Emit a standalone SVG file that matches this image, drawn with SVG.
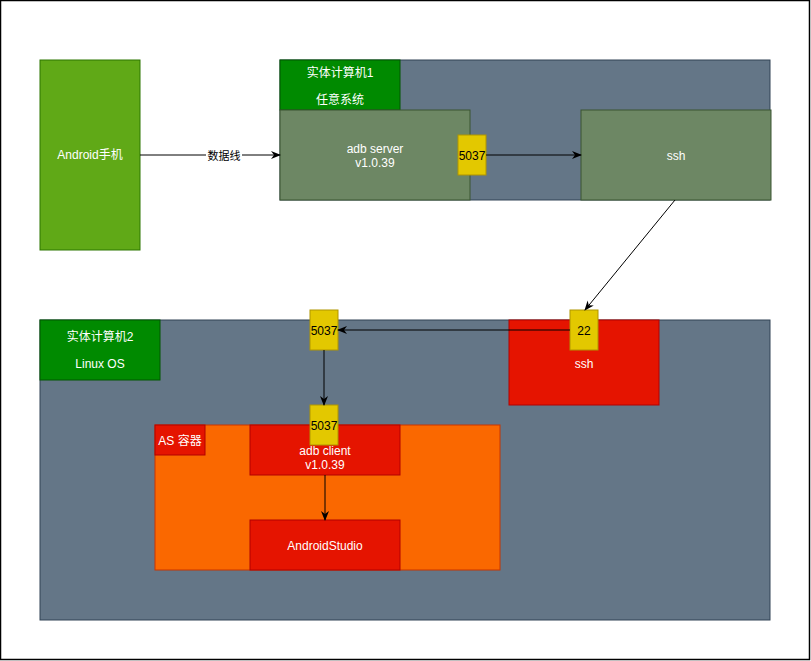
<svg xmlns="http://www.w3.org/2000/svg" width="811" height="661" viewBox="0 0 811 661">
<defs>
<style>
text{font-family:"Liberation Sans","Noto Sans CJK SC",Arial,sans-serif;font-size:12px;text-anchor:middle}
.w{fill:#ffffff}
.k{fill:#000000}
.host{fill:#647687;stroke:#314354}
.lab{fill:#008a00;stroke:#005700}
.gbox{fill:#6d8764;stroke:#3a5431}
.port{fill:#e3c800;stroke:#b09500}
.red{fill:#e51400;stroke:#b20000}
.edge{stroke:#000;stroke-width:1;fill:none;marker-end:url(#arr)}
</style>
<marker id="arr" viewBox="0 0 10 10" refX="9" refY="5" markerWidth="10" markerHeight="10" markerUnits="userSpaceOnUse" orient="auto">
<path d="M0,1 L10,5 L0,9 L3,5 Z" fill="#000"/>
</marker>
</defs>
<rect x="0" y="0" width="811" height="661" fill="#fff"/>
<rect x="0.5" y="0.5" width="809" height="659" fill="none" stroke="#000" stroke-width="1.5"/>

<g id="android">
<rect x="40" y="60" width="100" height="190" fill="#60a917" stroke="#2d7600"/>
<text class="w" x="90" y="159">Android手机</text>
</g>

<g id="host1">
<rect class="host" x="280" y="60" width="490" height="140"/>
</g>
<g id="host1-label">
<rect class="lab" x="280" y="60" width="120" height="50"/>
<text class="w" x="340" y="77">实体计算机1</text>
<text class="w" x="340" y="104">任意系统</text>
</g>
<g id="adb-server">
<rect class="gbox" x="280" y="110" width="190" height="90"/>
<text class="w" x="375" y="153">adb server</text>
<text class="w" x="375" y="167">v1.0.39</text>
</g>
<g id="ssh1">
<rect class="gbox" x="581" y="110" width="190" height="90"/>
<text class="w" x="676" y="160">ssh</text>
</g>
<g id="port-5037-server">
<rect class="port" x="458" y="135" width="28" height="40"/>
<text class="k" x="472" y="160">5037</text>
</g>

<g id="host2">
<rect class="host" x="40" y="320" width="730" height="300"/>
</g>
<g id="host2-label">
<rect class="lab" x="40" y="320" width="120" height="60"/>
<text class="w" x="100" y="341">实体计算机2</text>
<text class="w" x="100" y="368">Linux OS</text>
</g>
<g id="ssh2">
<rect class="red" x="509" y="320" width="150" height="85"/>
<text class="w" x="584" y="368">ssh</text>
</g>
<g id="port-22">
<rect class="port" x="570" y="310" width="28" height="40"/>
<text class="k" x="584" y="335">22</text>
</g>
<g id="as-container">
<rect x="155" y="425" width="345" height="145" fill="#fa6800" stroke="#c73500"/>
</g>
<g id="as-label">
<rect class="red" x="155" y="425" width="50" height="30"/>
<text class="w" x="180" y="445">AS 容器</text>
</g>
<g id="adb-client">
<rect class="red" x="250" y="425" width="150" height="50"/>
<text class="w" x="325" y="455">adb client</text>
<text class="w" x="325" y="469">v1.0.39</text>
</g>
<g id="android-studio">
<rect class="red" x="250" y="520" width="150" height="50"/>
<text class="w" x="325" y="550">AndroidStudio</text>
</g>
<g id="port-5037-host2">
<rect class="port" x="310" y="310" width="28" height="40"/>
<text class="k" x="324" y="335">5037</text>
</g>
<g id="port-5037-client">
<rect class="port" x="310" y="405" width="28" height="40"/>
<text class="k" x="324" y="430">5037</text>
</g>

<g id="connectors">
<line class="edge" x1="140" y1="155" x2="280" y2="155"/>
<rect x="206" y="148" width="36" height="14" fill="#fff"/>
<text class="k" x="224" y="160" style="font-size:11px">数据线</text>
<line class="edge" x1="486" y1="155" x2="581" y2="155"/>
<line class="edge" x1="675" y1="200" x2="585" y2="310"/>
<line class="edge" x1="570" y1="330" x2="338" y2="330"/>
<line class="edge" x1="324" y1="350" x2="324" y2="405"/>
<line class="edge" x1="325" y1="475" x2="325" y2="520"/>
</g>
</svg>
